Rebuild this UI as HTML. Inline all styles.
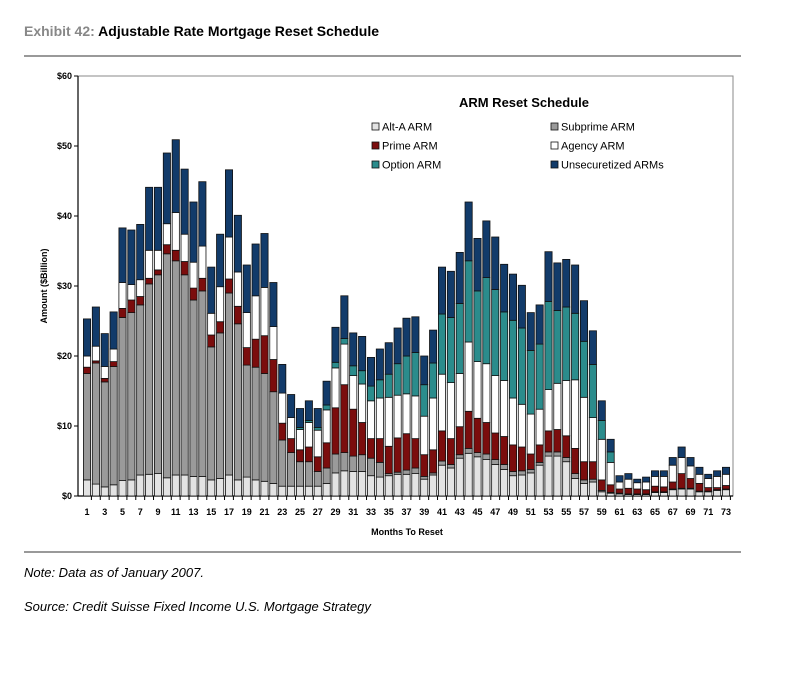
<!DOCTYPE html>
<html><head><meta charset="utf-8"><style>
body{margin:0;background:#fff;width:800px;height:686px;overflow:hidden;font-family:"Liberation Sans",sans-serif}
svg{position:absolute;left:0;top:0}
</style></head><body>
<svg width="800" height="686">
<text x="24" y="36" font-size="14" font-weight="bold" fill="#888">Exhibit 42: <tspan fill="#000">Adjustable Rate Mortgage Reset Schedule</tspan></text>
<line x1="24" y1="56" x2="741" y2="56" stroke="#999" stroke-width="2"/>
<g id="plot"></g>
<line x1="24" y1="552" x2="741" y2="552" stroke="#999" stroke-width="2"/>
<text x="24" y="577" font-size="13" font-style="italic">Note: Data as of January 2007.</text>
<text x="24" y="611" font-size="13" font-style="italic">Source: Credit Suisse Fixed Income U.S. Mortgage Strategy</text>
</svg>
<script>
const months=[];for(let i=1;i<=73;i++)months.push(i);
const altA=[2.3,1.7,1.3,1.6,2.2,2.3,3.0,3.1,3.2,2.6,3.0,3.0,2.8,2.8,2.3,2.5,3.0,2.3,2.7,2.3,2.1,1.8,1.4,1.4,1.4,1.4,1.4,1.8,3.3,3.6,3.5,3.5,2.9,2.7,2.9,3.1,3.1,3.2,2.4,3.0,4.4,4.0,5.4,6.1,5.6,5.2,4.5,3.8,2.9,3.0,3.3,4.4,5.7,5.7,4.9,2.5,1.8,2.0,0.6,0.4,0.3,0.2,0.2,0.2,0.5,0.5,0.9,1.0,1.0,0.6,0.6,0.8,0.9];
const subprime=[15.2,17.3,15.0,16.9,23.3,23.9,24.3,27.2,28.4,32.0,30.6,28.6,25.2,26.5,19.0,20.8,26.0,22.3,16.0,16.1,15.4,13.1,6.6,4.8,3.5,3.5,2.1,2.2,2.7,2.6,2.2,2.4,2.5,2.1,0.3,0.3,0.6,0.8,0.4,0.3,0.6,0.5,0.5,0.7,0.6,0.8,0.7,0.7,0.6,0.6,0.5,0.4,0.6,0.6,0.6,0.7,0.5,0.4,0.2,0.1,0.1,0.1,0.1,0.1,0.1,0.1,0.1,0.1,0.1,0.1,0.1,0.1,0.1];
const prime=[0.9,0.3,0.5,0.7,1.3,1.8,1.2,0.8,0.7,1.3,1.5,1.9,1.7,1.8,1.7,1.6,2.0,2.5,2.5,4.0,5.4,4.6,2.4,2.0,1.7,2.1,2.1,3.6,6.6,9.7,6.7,4.6,2.8,3.4,3.9,4.9,5.2,4.2,3.1,3.3,4.3,3.7,4.0,5.3,4.9,4.5,3.8,4.0,3.8,3.4,2.2,2.5,3.0,3.2,3.1,3.6,2.6,2.5,1.5,1.1,0.6,0.8,0.7,0.6,0.8,0.7,1.0,2.1,1.4,1.1,0.5,0.3,0.5];
const agency=[1.6,2.1,1.7,1.8,3.7,2.2,2.4,4.0,2.8,3.0,5.4,3.9,3.7,4.6,3.1,5.0,6.0,4.9,5.0,6.2,6.9,4.7,4.3,3.0,2.9,3.5,3.8,4.7,5.7,5.8,4.8,5.5,5.4,5.8,7.0,6.1,5.7,6.1,5.5,7.4,8.1,8.0,7.6,9.9,8.1,8.4,8.2,8.0,6.7,6.1,5.7,5.1,5.9,6.6,7.9,9.8,9.2,6.3,5.8,3.2,1.0,1.3,0.9,1.1,1.4,1.5,2.4,2.3,1.8,1.3,1.3,1.6,1.6];
const optionArm=[0,0,0,0,0,0,0,0,0,0,0,0,0,0,0,0,0,0,0,0,0,0,0,0,0.3,0.3,0.4,0.7,0.8,0.8,1.4,1.9,2.1,2.6,3.3,4.5,5.4,6.2,4.5,5.0,8.6,9.3,10.0,11.6,10.1,12.3,12.3,9.8,11.1,10.9,9.1,9.3,12.6,10.4,10.5,9.5,8.0,7.6,2.7,1.5,0,0,0,0,0,0,0,0,0,0,0,0,0];
const unsec=[5.3,5.6,4.7,5.3,7.8,7.8,7.9,9.0,9.0,10.1,10.4,9.3,8.6,9.2,6.6,7.5,9.6,8.1,6.8,7.4,7.7,6.3,4.1,3.3,2.7,2.8,2.7,3.4,5.0,6.1,4.7,4.9,4.1,4.4,4.5,5.1,5.4,5.1,4.1,4.7,6.7,6.6,7.3,8.4,7.5,8.1,7.5,6.8,6.6,6.1,5.4,5.6,7.1,6.8,6.8,6.9,5.8,4.8,2.8,1.8,0.9,0.8,0.5,0.7,0.8,0.8,1.1,1.5,1.2,1.0,0.6,0.8,1.0];
const yTicks=[0,10,20,30,40,50,60];
const seriesNames=["Alt-A ARM","Subprime ARM","Prime ARM","Agency ARM","Option ARM","Unsecuretized ARMs"];

const NS="http://www.w3.org/2000/svg";
const g=document.getElementById('plot');
const X0=78,X1=733,Y0=496,Y1=76;
const y=v=>Y0-(v/60)*(Y0-Y1);
const x=i=>87+(i-1)*(726-87)/72;
function mk(t,a,p){const e=document.createElementNS(NS,t);for(const k in a)e.setAttribute(k,a[k]);(p||g).appendChild(e);return e;}
const series=[altA,subprime,prime,agency,optionArm,unsec];
const colors=["#e3e3e3","#9a9a9a","#7b0d0d","#ffffff","#2b8c8c","#123b6a"];
const keys=["alt-a","subprime","prime","agency","option","unsecuritized"];
// frame
let fr=mk('rect',{x:X0,y:Y1,width:X1-X0,height:Y0-Y1,fill:'none',stroke:'#888','stroke-width':1});


mk('line',{x1:X0,y1:Y1,x2:X0,y2:Y0,stroke:'#000','stroke-width':1.2});
mk('line',{x1:X0,y1:Y0,x2:X1,y2:Y0,stroke:'#000','stroke-width':1.2});
yTicks.forEach(v=>{
  mk('line',{x1:X0-4,y1:y(v),x2:X0,y2:y(v),stroke:'#000'});
  const t=mk('text',{x:X0-6,y:y(v)+3,'font-size':9,'font-weight':'bold','text-anchor':'end'});
  t.textContent='$'+v;
  
  
});
months.forEach((m,i)=>{
  const cx=x(m);let acc=0;
  series.forEach((s,k)=>{
    const v=s[i];if(v<=0){return;}
    const r=mk('rect',{x:cx-3.6,y:y(acc+v),width:7.2,height:y(acc)-y(acc+v),fill:colors[k],stroke:'#111','stroke-width':0.8});
    
    
    acc+=v;
  });
  mk('line',{x1:cx+4.4,y1:Y0,x2:cx+4.4,y2:Y0+4,stroke:'#000'});
  if(m%2===1){
    const t=mk('text',{x:cx,y:Y0+19,'font-size':9,'font-weight':'bold','text-anchor':'middle'});
    t.textContent=m;
    
    
  }
});
let t=mk('text',{x:407,y:535,'font-size':9,'font-weight':'bold','text-anchor':'middle'});t.textContent='Months To Reset';


t=mk('text',{x:0,y:0,'font-size':9,'font-weight':'bold','text-anchor':'middle',transform:'translate(47,286) rotate(-90)'});t.textContent='Amount ($Billion)';


t=mk('text',{x:524,y:107,'font-size':13,'font-weight':'bold','text-anchor':'middle'});t.textContent='ARM Reset Schedule';


seriesNames.forEach((n,k)=>{
  const col=k%2,row=Math.floor(k/2);
  const lx=col?551:372,ly=127+row*19;
  const lg=mk('g',{});
  
  
  mk('rect',{x:lx,y:ly-4,width:7,height:7,fill:colors[k],stroke:'#111','stroke-width':0.8},lg);
  const tt=mk('text',{x:lx+10,y:ly+3.5,'font-size':11},lg);tt.textContent=n;
});
</script>
</body></html>
